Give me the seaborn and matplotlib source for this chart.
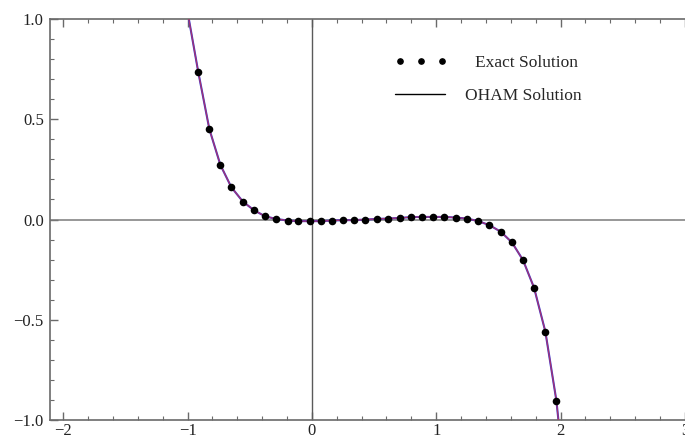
import pandas as pd
import matplotlib
matplotlib.use('Agg')
import matplotlib.pyplot as plt
from matplotlib.lines import Line2D
from matplotlib.ticker import MultipleLocator
import seaborn as sns

# Точки точного решения
x_exact = [-0.914, -0.825, -0.736, -0.648, -0.556, -0.465, -0.376, -0.288, -0.196, -0.108,
           -0.016, 0.073, 0.161, 0.252, 0.342, 0.431, 0.523, 0.612, 0.706, 0.795,
           0.884, 0.976, 1.065, 1.156, 1.245, 1.334, 1.428, 1.520, 1.609, 1.698,
           1.787, 1.878, 1.967]
y_exact = [0.735, 0.451, 0.272, 0.161, 0.090, 0.046, 0.016, 0.003, -0.005, -0.008,
           -0.008, -0.008, -0.005, -0.003, -0.003, 0.000, 0.003, 0.005, 0.008, 0.012,
           0.013, 0.013, 0.013, 0.010, 0.005, -0.007, -0.028, -0.061, -0.114, -0.202,
           -0.340, -0.559, -0.904]

# Кривая OHAM: те же точки плюс концы, где линия выходит за рамку
x_oham = [-0.99] + x_exact + [1.983]
y_oham = [1.0] + y_exact + [-1.0]

x_ticks = [-2, -1, 0, 1, 2, 3]
y_ticks = [-1.0, -0.5, 0.0, 0.5, 1.0]

exact_df = pd.DataFrame({'x': x_exact, 'y': y_exact})
oham_df = pd.DataFrame({'x': x_oham, 'y': y_oham})

sns.set_style('ticks')
plt.rcParams['font.family'] = ['Liberation Serif', 'DejaVu Serif']

fig = plt.figure(figsize=(6.85, 4.42), dpi=100)
ax = fig.add_axes([0.073, 0.0498, 0.93, 0.907])

frame_col = '#6a6a6a'
ax.axhline(0, color='#7a7a7a', lw=1.1, zorder=1)
ax.axvline(0, color='#5a5a5a', lw=1.0, zorder=1)

# две совпадающие кривые дают фиолетовый оттенок
sns.lineplot(data=oham_df, x='x', y='y', ax=ax, color='#3a3ad0', lw=1.5, zorder=2)
sns.lineplot(data=oham_df, x='x', y='y', ax=ax, color='#c0305a', lw=0.9, alpha=0.8, zorder=3)
sns.scatterplot(data=exact_df, x='x', y='y', ax=ax, color='black', s=30,
                edgecolor='black', linewidth=0, zorder=4)

ax.set_xlim(-2.107, 3.018)
ax.set_ylim(-1.0, 1.0)
ax.set_xticks(x_ticks)
ax.set_yticks(y_ticks)
ax.set_xticklabels([str(t).replace('-', '\u2212') for t in x_ticks])
ax.set_yticklabels([('%.1f' % t).replace('-', '\u2212') for t in y_ticks])
ax.xaxis.set_minor_locator(MultipleLocator(0.2))
ax.yaxis.set_minor_locator(MultipleLocator(0.1))
ax.tick_params(which='both', direction='in', top=True, right=False, color=frame_col,
               labelsize=12, labelcolor='#222222')
ax.tick_params(which='major', length=5.5, width=1.0)
ax.tick_params(which='minor', length=3, width=0.8)
ax.tick_params(axis='y', which='major', pad=4.5)
ax.tick_params(axis='x', which='major', pad=2.5)
ax.set_xlabel('')
ax.set_ylabel('')

for side in ['left', 'bottom', 'top']:
    ax.spines[side].set_color(frame_col)
    ax.spines[side].set_linewidth(1.2)
ax.spines['right'].set_visible(False)

# Легенда: две отдельные записи, чтобы выставить отступы как в оригинале
h_dots = Line2D([], [], ls='none', marker='o', color='black', ms=3.8)
h_line = Line2D([], [], color='black', lw=1.0)
leg1 = ax.legend([h_dots], ['Exact Solution'], numpoints=3, frameon=False,
                 loc='center left', bbox_to_anchor=(395 / 685, 1 - 63 / 442),
                 bbox_transform=fig.transFigure, borderpad=0, borderaxespad=0,
                 handlelength=3.0, handletextpad=1.62, fontsize=12.5)
ax.add_artist(leg1)
ax.legend([h_line], ['OHAM Solution'], frameon=False,
          loc='center left', bbox_to_anchor=(395 / 685, 1 - 96 / 442),
          bbox_transform=fig.transFigure, borderpad=0, borderaxespad=0,
          handlelength=2.9, handletextpad=1.15, fontsize=12.5)

plt.savefig('out.png', dpi=100)
